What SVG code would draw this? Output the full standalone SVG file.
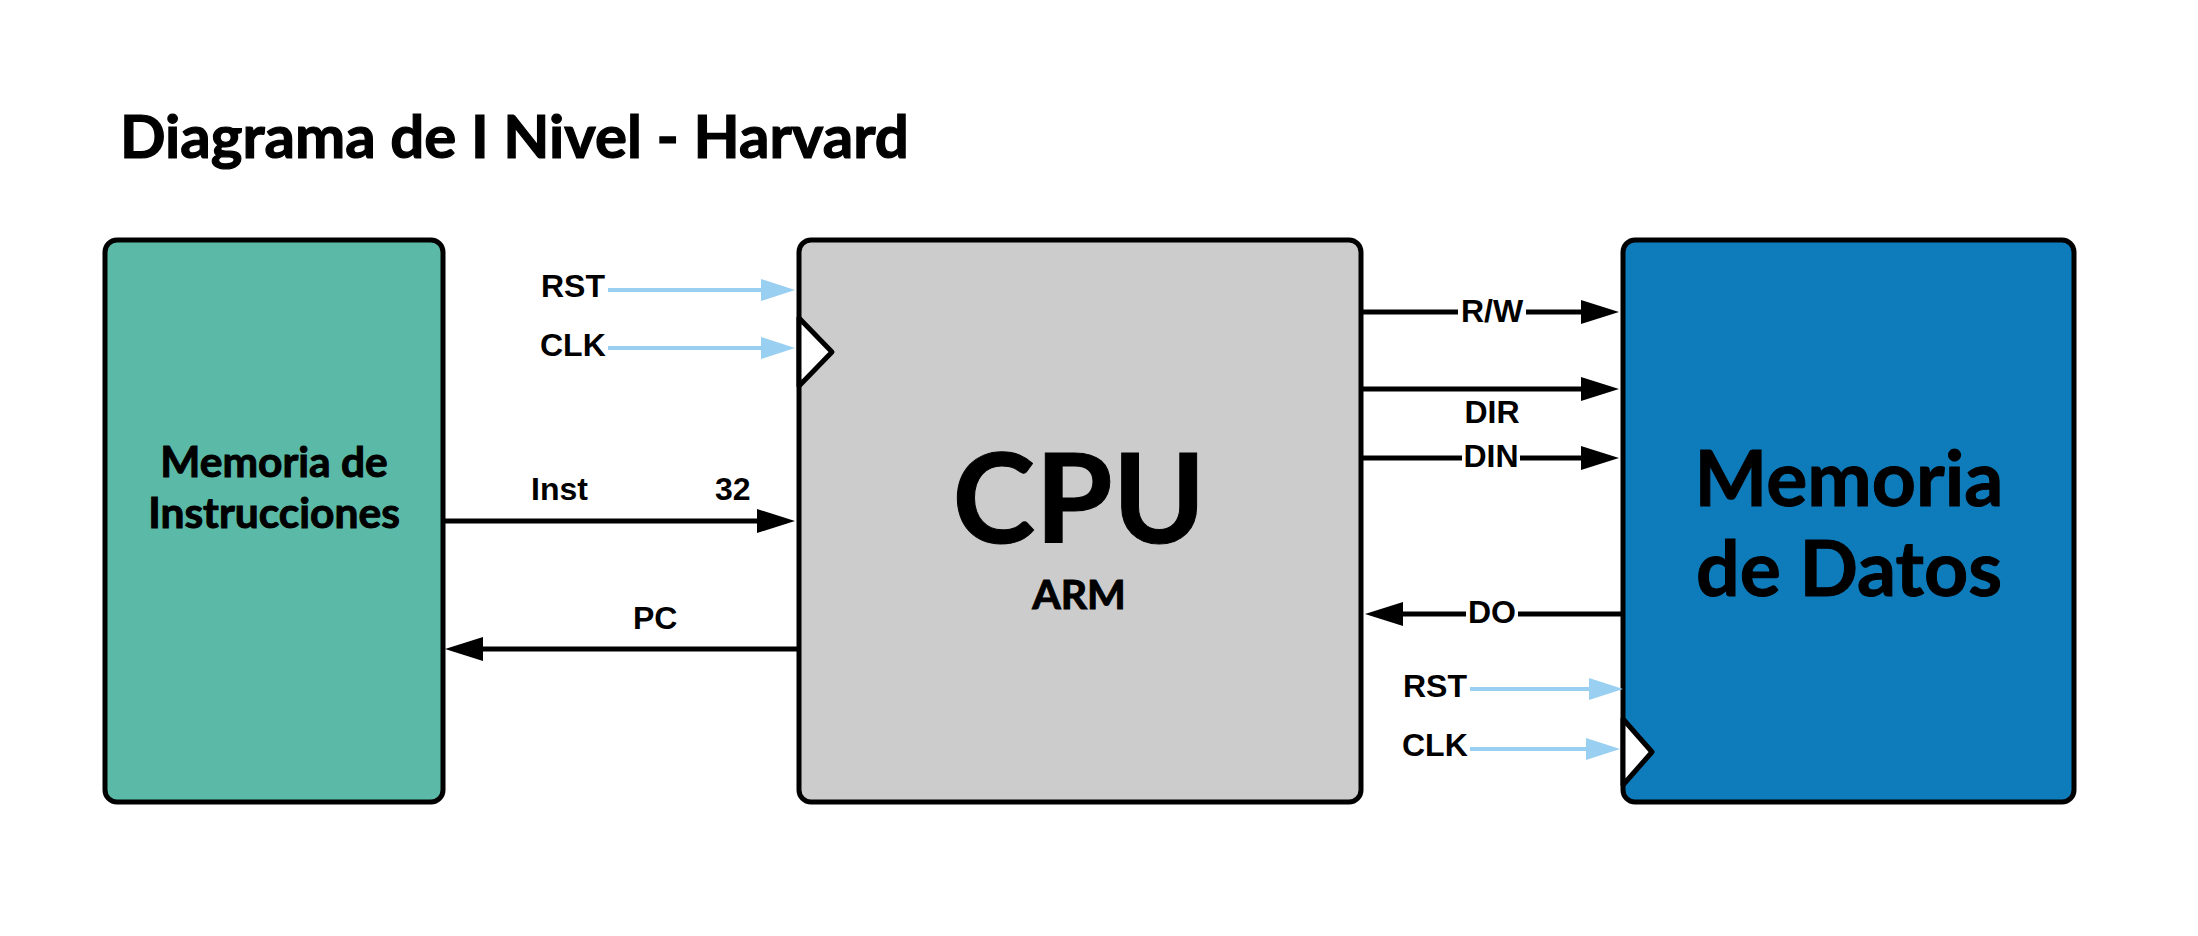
<svg xmlns="http://www.w3.org/2000/svg" width="2198" height="936" viewBox="0 0 2198 936">
  <defs>
    <marker id="arrBlack" viewBox="0 0 38 24" refX="0" refY="12" markerWidth="38" markerHeight="24" markerUnits="userSpaceOnUse" orient="auto">
      <path d="M0,0 L38,12 L0,24 z" fill="#000"/>
    </marker>
    <marker id="arrBlue" viewBox="0 0 34 22" refX="0" refY="11" markerWidth="34" markerHeight="22" markerUnits="userSpaceOnUse" orient="auto">
      <path d="M0,0 L34,11 L0,22 z" fill="#99CFF0"/>
    </marker>
  </defs>
  <style>
    .box { stroke: #000; stroke-width: 5; }
    .clk { fill: #fff; stroke: #000; stroke-width: 5; stroke-linejoin: round; }
    .node-label { font-family: Lato, "Liberation Sans", sans-serif; font-weight: bold; fill: #000; stroke: #000; stroke-width: 1; text-anchor: middle; }
    .sig { font-family: "Liberation Sans", Arial, sans-serif; font-weight: bold; font-size: 32px; fill: #000; }
    .wire { fill: none; stroke: #000; stroke-width: 5; marker-end: url(#arrBlack); }
    .ctl { fill: none; stroke: #99CFF0; stroke-width: 4; marker-end: url(#arrBlue); }
  </style>
  <rect width="2198" height="936" fill="#fff"/>

  <text x="120" y="158" font-family="Lato, 'Liberation Sans', sans-serif" font-weight="bold" font-size="60" fill="#000" stroke="#000" stroke-width="1.2">Diagrama de I Nivel - Harvard</text>

  <g id="mem-instr">
    <rect class="box" x="105" y="240" width="338" height="562" rx="12" fill="#5BBAA7"/>
    <text class="node-label" x="274" y="477" font-size="42.5">Memoria de</text>
    <text class="node-label" x="274" y="528" font-size="42.5">Instrucciones</text>
  </g>

  <g id="cpu">
    <rect class="box" x="799" y="240" width="562" height="562" rx="12" fill="#CCCCCC"/>
    <path class="clk" d="M799,318 L832,352 L799,386 z"/>
    <text class="node-label" x="1079" y="543" font-size="125">CPU</text>
    <text class="node-label" x="1079" y="609" font-size="41">ARM</text>
  </g>

  <g id="mem-datos">
    <rect class="box" x="1623" y="240" width="451" height="562" rx="12" fill="#0E7BBB"/>
    <path class="clk" d="M1623,719 L1652,752 L1623,785 z"/>
    <text class="node-label" x="1849" y="506" font-size="77">Memoria</text>
    <text class="node-label" x="1849" y="596" font-size="77">de Datos</text>
  </g>

  <g id="connectors">
    <path class="ctl" d="M608,290 L761,290"/>
    <path class="ctl" d="M608,348 L761,348"/>
    <path class="wire" d="M443,521 L757,521"/>
    <path class="wire" d="M799,649 L483,649"/>
    <path class="wire" d="M1361,312 L1458,312 M1526,312 L1581,312"/>
    <path class="wire" d="M1361,389 L1581,389"/>
    <path class="wire" d="M1361,458 L1462,458 M1520,458 L1581,458"/>
    <path class="wire" d="M1623,614 L1518,614 M1466,614 L1403,614"/>
    <path class="ctl" d="M1470,689 L1589,689"/>
    <path class="ctl" d="M1470,749 L1586,749"/>
  </g>

  <g id="labels">
    <text class="sig" x="541" y="297">RST</text>
    <text class="sig" x="540" y="356">CLK</text>
    <text class="sig" x="531" y="500">Inst</text>
    <text class="sig" x="715" y="500">32</text>
    <text class="sig" x="633" y="629">PC</text>
    <text class="sig" x="1492" y="322" text-anchor="middle">R/W</text>
    <text class="sig" x="1492" y="423" text-anchor="middle">DIR</text>
    <text class="sig" x="1491" y="467" text-anchor="middle">DIN</text>
    <text class="sig" x="1492" y="623" text-anchor="middle">DO</text>
    <text class="sig" x="1403" y="697">RST</text>
    <text class="sig" x="1402" y="756">CLK</text>
  </g>
</svg>
